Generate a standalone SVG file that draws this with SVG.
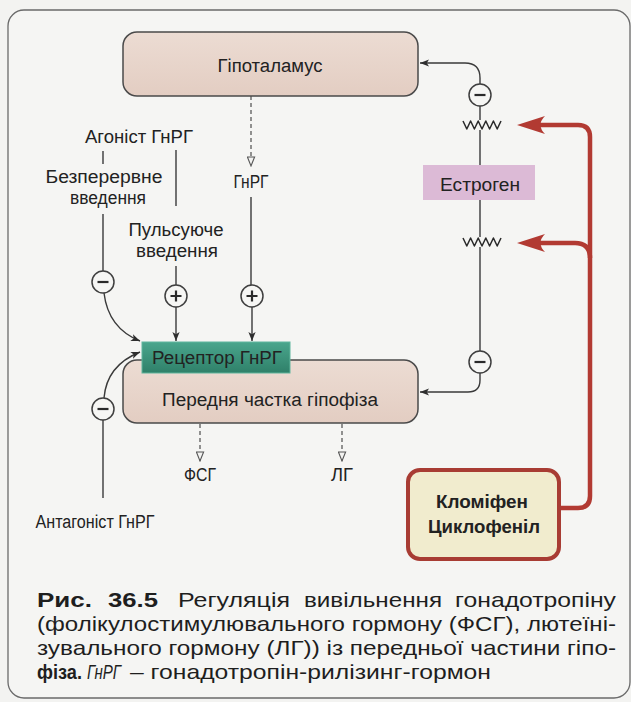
<svg xmlns="http://www.w3.org/2000/svg" width="631" height="702" viewBox="0 0 631 702">
<style>
.lbl{font-family:"Liberation Sans",Arial,sans-serif;font-size:18px;fill:#222;text-anchor:middle}
.box{fill:url(#beige);stroke:#4a4a4a;stroke-width:1.5}
.ln{fill:none;stroke:#3a3a3a;stroke-width:1.4}
.dash{fill:none;stroke:#5a5a5a;stroke-width:1.3;stroke-dasharray:4 3}
.red{fill:none;stroke:#b23a32;stroke-width:4.5}
.wave{fill:none;stroke:#2a2a2a;stroke-width:1.5;stroke-linejoin:round}
.sign circle{fill:#f6f6f4;stroke:#3f3f3f;stroke-width:1.5}
.sign path{stroke:#2a2a2a;stroke-width:2.2;fill:none}
.cap{font-family:"Liberation Sans",Arial,sans-serif;font-size:21px;fill:#1e1e1e}
.b{font-weight:bold}
</style>
<defs>
<linearGradient id="beige" x1="0" y1="0" x2="0" y2="1">
<stop offset="0" stop-color="#ecdcd3"/><stop offset="1" stop-color="#e3cdc2"/>
</linearGradient>
<linearGradient id="teal" x1="0" y1="0" x2="0" y2="1">
<stop offset="0" stop-color="#4aa68d"/><stop offset="1" stop-color="#2f8069"/>
</linearGradient>
<marker id="ah" viewBox="0 0 10 10" refX="10" refY="5" markerWidth="9" markerHeight="9" markerUnits="userSpaceOnUse" orient="auto">
<path d="M0,1 L10,5 L0,9 L2.5,5 z" fill="#2e2e2e"/>
</marker>
<marker id="oh" viewBox="0 0 12 10" refX="11" refY="5" markerWidth="11" markerHeight="9" markerUnits="userSpaceOnUse" orient="auto">
<path d="M1,1 L11,5 L1,9 z" fill="#f3f3f1" stroke="#555" stroke-width="1.2"/>
</marker>
<marker id="rh" viewBox="0 0 30 20" refX="8" refY="10" markerWidth="30" markerHeight="20" markerUnits="userSpaceOnUse" orient="auto">
<path d="M29,10 L1,1 Q10,10 1,19 z" fill="#b23a32"/>
</marker>
</defs>
<rect x="0" y="0" width="631" height="702" fill="#f3f3f1"/>
<rect x="8" y="10" width="622" height="688" rx="16" fill="#f5f5f3" stroke="#6a6a6a" stroke-width="1.3"/>

<g id="connectors">
<path class="dash" d="M251,96 V166" marker-end="url(#oh)"/>
<path class="ln" d="M251,197 V285"/>
<path class="ln" d="M252,307 V341" marker-end="url(#ah)"/>
<path class="ln" d="M103,151 V164"/>
<path class="ln" d="M103,214 V271"/>
<path class="ln" d="M176,150 V206"/>
<path class="ln" d="M176,266 V285"/>
<path class="ln" d="M176,307 V341" marker-end="url(#ah)"/>
<path class="ln" d="M104,293 C107,318 120,333 140,341" marker-end="url(#ah)"/>
<path class="ln" d="M104,398 C106,374 120,360 140,352" marker-end="url(#ah)"/>
<path class="ln" d="M103,420 V498"/>
<path class="dash" d="M200,424 V461" marker-end="url(#oh)"/>
<path class="dash" d="M342,424 V461" marker-end="url(#oh)"/>
<path class="ln" d="M480,84 V78 Q480,63 465,63 H420" marker-end="url(#ah)"/>
<path class="ln" d="M480,106 V120"/>
<path class="ln" d="M480,130 V165"/>
<path class="ln" d="M480,200 V237"/>
<path class="ln" d="M480,247 V351"/>
<path class="ln" d="M480,373 V380 Q480,392 468,392 H420" marker-end="url(#ah)"/>
<path class="wave" d="M463,121 l3.8,8 l3.8,-8 l3.8,8 l3.8,-8 l3.8,8 l3.8,-8 l3.8,8 l3.8,-8 l3.8,8 l3.8,-8"/>
<path class="wave" d="M463,238 l3.8,8 l3.8,-8 l3.8,8 l3.8,-8 l3.8,8 l3.8,-8 l3.8,8 l3.8,-8 l3.8,8 l3.8,-8"/>
<path class="red" d="M560,508 H578 Q590,508 590,496 V137 Q590,125 578,125 H538" marker-end="url(#rh)"/>
<path class="red" d="M590,258 Q590,243 575,243 H538" marker-end="url(#rh)"/>
</g>

<g id="hypothalamus">
<rect class="box" x="123" y="32" width="295" height="64" rx="14"/>
<text class="lbl" x="270" y="72" textLength="105" lengthAdjust="spacingAndGlyphs">Гіпоталамус</text>
</g>

<g id="pituitary">
<rect class="box" x="123" y="360" width="295" height="63" rx="14"/>
<text class="lbl" x="270" y="406" textLength="216" lengthAdjust="spacingAndGlyphs">Передня частка гіпофіза</text>
</g>

<g id="receptor">
<rect x="142" y="342" width="148" height="31" fill="url(#teal)" stroke="#5fb59d" stroke-width="1"/>
<text class="lbl" x="217" y="364" textLength="130" lengthAdjust="spacingAndGlyphs" fill="#1b2a26">Рецептор ГнРГ</text>
</g>

<g id="estrogen">
<rect x="423" y="165" width="112" height="35" fill="#dcbad6"/>
<text class="lbl" x="480" y="191" textLength="80" lengthAdjust="spacingAndGlyphs">Естроген</text>
</g>

<g id="clomiphene">
<rect x="408" y="470" width="151" height="89" rx="12" fill="#f1ecce" stroke="#a83c33" stroke-width="4"/>
<text class="lbl b" font-size="19"><tspan x="482" y="508" textLength="92" lengthAdjust="spacingAndGlyphs">Кломіфен</tspan><tspan x="484" y="533" textLength="112" lengthAdjust="spacingAndGlyphs">Циклофеніл</tspan></text>
</g>

<g id="agonist">
<text class="lbl" x="139" y="143" textLength="108" lengthAdjust="spacingAndGlyphs">Агоніст ГнРГ</text>
</g>
<g id="continuous">
<text class="lbl"><tspan x="104" y="183" textLength="117" lengthAdjust="spacingAndGlyphs">Безперервне</tspan><tspan x="108" y="204" textLength="76" lengthAdjust="spacingAndGlyphs">введення</tspan></text>
</g>
<g id="pulsatile">
<text class="lbl"><tspan x="176" y="236" textLength="95" lengthAdjust="spacingAndGlyphs">Пульсуюче</tspan><tspan x="177" y="257" textLength="82" lengthAdjust="spacingAndGlyphs">введення</tspan></text>
</g>
<g id="gnrh">
<text class="lbl" x="251" y="188" textLength="35" lengthAdjust="spacingAndGlyphs">ГнРГ</text>
</g>
<g id="antagonist">
<text class="lbl" x="95" y="528" textLength="119" lengthAdjust="spacingAndGlyphs">Антагоніст ГнРГ</text>
</g>
<g id="fsh"><text class="lbl" x="200" y="481" textLength="32" lengthAdjust="spacingAndGlyphs">ФСГ</text></g>
<g id="lh"><text class="lbl" x="342" y="481" textLength="22" lengthAdjust="spacingAndGlyphs">ЛГ</text></g>

<g id="signs" class="sign">
<circle cx="103" cy="282" r="11"/><path d="M97.5,282 H108.5"/>
<circle cx="103" cy="409" r="11"/><path d="M97.5,409 H108.5"/>
<circle cx="176" cy="296" r="11"/><path d="M170.5,296 H181.5 M176,290.5 V301.5"/>
<circle cx="252" cy="296" r="11"/><path d="M246.5,296 H257.5 M252,290.5 V301.5"/>
<circle cx="480" cy="95" r="11"/><path d="M474.5,95 H485.5"/>
<circle cx="480" cy="362" r="11"/><path d="M474.5,362 H485.5"/>
</g>

<g id="caption">
<text class="cap b" x="37" y="607" textLength="55" lengthAdjust="spacingAndGlyphs">Рис.</text>
<text class="cap b" x="108" y="607" textLength="50" lengthAdjust="spacingAndGlyphs">36.5</text>
<text class="cap" x="178" y="607" textLength="112" lengthAdjust="spacingAndGlyphs">Регуляція</text>
<text class="cap" x="304" y="607" textLength="138" lengthAdjust="spacingAndGlyphs">вивільнення</text>
<text class="cap" x="455" y="607" textLength="161" lengthAdjust="spacingAndGlyphs">гонадотропіну</text>
<text class="cap" x="37" y="631" textLength="579" lengthAdjust="spacingAndGlyphs">(фолікулостимулювального гормону (ФСГ), лютеїні-</text>
<text class="cap" x="37" y="655" textLength="579" lengthAdjust="spacingAndGlyphs">зувального гормону (ЛГ)) із передньої частини гіпо-</text>
<text class="cap b" x="37" y="679" textLength="45" lengthAdjust="spacingAndGlyphs">фіза.</text>
<text class="cap" x="87" y="679" font-size="18" font-style="italic" font-family="'Liberation Sans Narrow','Liberation Sans',Arial,sans-serif" textLength="34" lengthAdjust="spacingAndGlyphs">ГнРГ</text>
<text class="cap" x="130" y="679" textLength="361" lengthAdjust="spacingAndGlyphs">– гонадотропін-рилізинг-гормон</text>
</g>
</svg>
